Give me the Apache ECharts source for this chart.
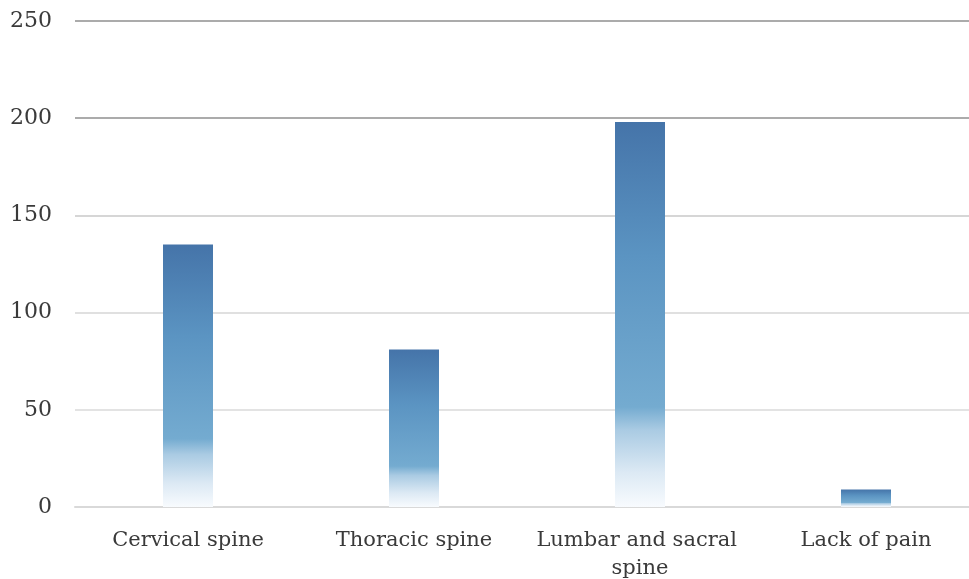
<!DOCTYPE html>
<html>
<head>
<meta charset="utf-8">
<style>
  html, body { margin: 0; padding: 0; background: #ffffff; overflow: hidden; }
  #chart { width: 979px; height: 579px; }
</style>
<script src="https://cdn.jsdelivr.net/npm/echarts@6/dist/echarts.min.js"></script>
</head>
<body>
<div id="chart"></div>
<script>
// Location of back pain: number of respondents per category
const categories = ['Cervical spine', 'Thoracic spine', 'Lumbar and sacral spine', 'Lack of pain'];
const counts = [135, 81, 198, 9];
const yTicks = [0, 50, 100, 150, 200, 250];

const chart = echarts.init(document.getElementById('chart'), null, { renderer: 'canvas' });

// vertical fill: deep blue at the top, lighter blue, then fading out towards the base
const barFill = new echarts.graphic.LinearGradient(0, 0, 0, 1, [
  { offset: 0.0, color: '#4574a9' },
  { offset: 0.35, color: '#5b94c2' },
  { offset: 0.74, color: '#74abd0' },
  { offset: 0.80, color: '#aacbe3' },
  { offset: 0.91, color: '#dce9f4' },
  { offset: 1.0, color: '#f8fbfe' }
]);

const font = '"DejaVu Serif", "Liberation Serif", serif';

chart.setOption({
  animation: false,
  backgroundColor: '#ffffff',
  grid: { left: 75, right: 0, top: 21, bottom: 72, containLabel: false, outerBoundsMode: 'none' },
  xAxis: {
    type: 'category',
    data: categories,
    axisLine: { show: true, lineStyle: { color: '#d9d9d9', width: 2 } },
    axisTick: { show: false },
    axisLabel: {
      color: '#3a3a3a',
      fontFamily: font,
      fontSize: 21,
      margin: 20,
      width: 215,
      overflow: 'break',
      lineHeight: 28,
      interval: 0
    }
  },
  yAxis: {
    type: 'value',
    min: yTicks[0],
    max: yTicks[yTicks.length - 1],
    interval: 50,
    axisLine: { show: false },
    axisTick: { show: false },
    axisLabel: {
      color: '#3a3a3a',
      fontFamily: font,
      fontSize: 22,
      margin: 23
    },
    splitLine: {
      show: true,
      lineStyle: {
        width: 2,
        color: ['#d9d9d9', '#e3e3e3', '#e0e0e0', '#d6d6d6', '#ababab', '#ababab']
      }
    }
  },
  series: [{
    type: 'bar',
    data: counts,
    barWidth: 50,
    itemStyle: { color: barFill }
  }]
});
</script>
</body>
</html>
